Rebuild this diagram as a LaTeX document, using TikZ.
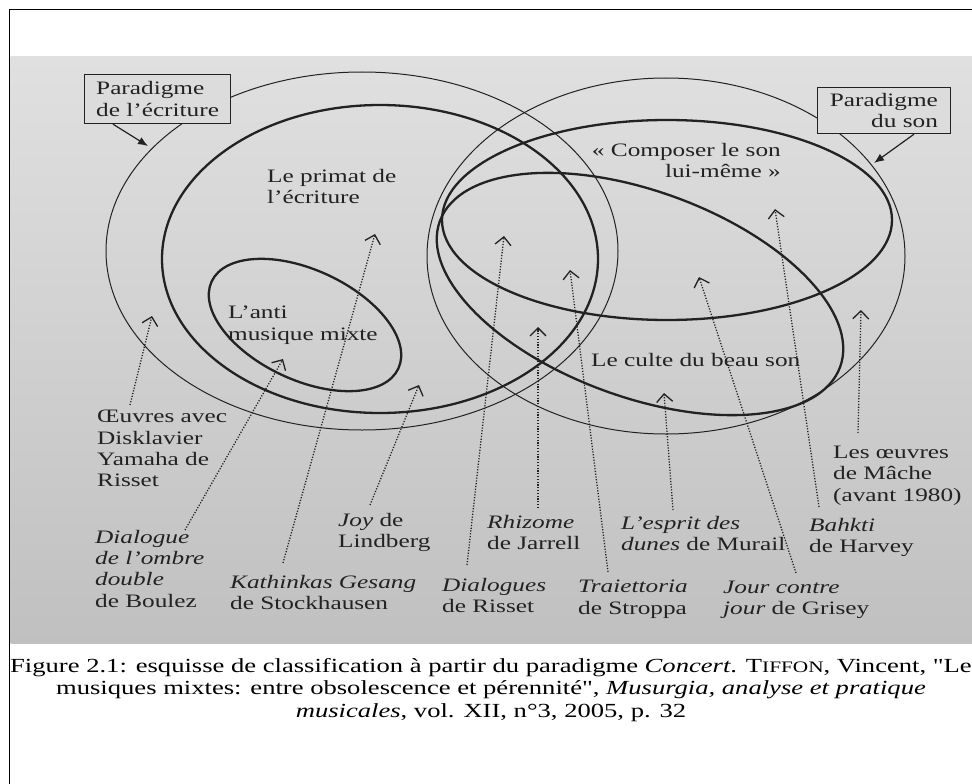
\documentclass[tikz,border=0pt]{standalone}
\usepackage{fontspec}
\setmainfont{Liberation Serif}
\newfontfamily\photofont[FakeStretch=1.33]{Liberation Serif}
\newfontfamily\capfont[FakeStretch=1.33, Ligatures=TeXOff]{Liberation Serif}
\usetikzlibrary{arrows.meta}
\definecolor{ink}{HTML}{222222}
\definecolor{bgtop}{HTML}{E0E0E0}
\definecolor{bgbot}{HTML}{C0C0C0}
\definecolor{boxbg}{HTML}{DCDCDC}
\begin{document}
\begin{tikzpicture}[x=1pt,y=1pt,
  thinell/.style={draw=ink, line width=1pt},
  thickell/.style={draw=ink, line width=2.3pt},
  lbl/.style={font=\photofont\fontsize{19}{21.3}\selectfont, text=ink, inner sep=0pt, align=left, anchor=north west},
  pbox/.style={lbl, draw=ink, line width=1.2pt, fill=boxbg, inner sep=0pt},
  dotarrow/.style={draw=ink, line width=1.3pt, dash pattern=on 1.2pt off 1.6pt,
     -{Straight Barb[length=8pt,width=16pt,line width=1.3pt]}},
  solidarrow/.style={draw=ink, line width=1.2pt, -{Latex[length=10pt,width=8pt]}},
  caption/.style={font=\capfont\fontsize{20}{22.3}\selectfont, text=black, inner sep=0pt, align=center}
]
\useasboundingbox (0,0) rectangle (972,-784);
% photo background
\shade[top color=bgtop, bottom color=bgbot] (10.5,-57) rectangle (972,-643);
% frame
\draw[line width=1.6pt] (9.5,-800) -- (9.5,-9.5) -- (990,-9.5);

% ellipses
\coordinate (cE1) at (362,-251);
\coordinate (cE2) at (380,-259);
\coordinate (cE3) at (305,-325);
\coordinate (cE4) at (666,-256);
\coordinate (cE5) at (667,-220);
\coordinate (cE6) at (640,-294);
\draw[thinell] (cE1) ellipse [x radius=256, y radius=179];
\draw[thickell] (cE2) ellipse [x radius=218, y radius=154];
\draw[thickell] (cE3) ellipse [x radius=103, y radius=55, rotate=-25];
\draw[thinell] (cE4) ellipse [x radius=239, y radius=178];
\draw[thickell] (cE5) ellipse [x radius=225, y radius=100];
\draw[thickell] (cE6) ellipse [x radius=213, y radius=103, rotate=-20];

% paradigm boxes
\node[pbox, minimum width=146, minimum height=49] (box1) at (84,-74) {Paradigme\\de l’écriture};
\node[pbox, anchor=north east, align=right, minimum width=133, minimum height=46] (box2) at (951,-87) {Paradigme\\du son};
\coordinate (tipA) at (148,-146);
\coordinate (tipB) at (874,-163);
\draw[solidarrow] ([xshift=29pt]box1.south west) -- (tipA);
\draw[solidarrow] ([xshift=-37pt]box2.south east) -- (tipB);

% region labels
\node[lbl] (primat) at (267,-169) {Le primat de\\l’écriture};
\node[lbl] (anti) at (228,-306) {L’anti\\musique mixte};
\node[lbl, anchor=north east, align=right] (composer) at (781,-143) {« Composer le son\\lui-même »};
\node[lbl] (culte) at (591,-353) {Le culte du beau son};

% work labels
\node[lbl] (oeuvres) at (97,-410) {Œuvres avec\\Disklavier\\Yamaha de\\Risset};
\node[lbl] (dialogue) at (95,-530) {\textit{Dialogue}\\\textit{de l’ombre}\\\textit{double}\\de Boulez};
\node[lbl] (kath) at (230,-575) {\textit{Kathinkas Gesang}\\de Stockhausen};
\node[lbl] (joy) at (338,-513) {\textit{Joy} de\\Lindberg};
\node[lbl] (dialogues) at (442,-578) {\textit{Dialogues}\\de Risset};
\node[lbl] (rhizome) at (487,-515) {\textit{Rhizome}\\de Jarrell};
\node[lbl] (traj) at (578,-580) {\textit{Traiettoria}\\de Stroppa};
\node[lbl] (esprit) at (621,-516) {\textit{L’esprit des}\\\textit{dunes} de Murail};
\node[lbl] (jour) at (723,-581) {\textit{Jour contre}\\\textit{jour} de Grisey};
\node[lbl] (bahkti) at (809,-518) {\textit{Bahkti}\\de Harvey};
\node[lbl] (mache) at (833,-446) {Les œuvres\\de Mâche\\(avant 1980)};

% dotted arrows: start and tip coordinates
\coordinate (s1) at (130,-405);  \coordinate (t1) at (152,-316);
\coordinate (s2) at (185,-530);  \coordinate (t2) at (283,-359);
\coordinate (s3) at (283,-563);  \coordinate (t3) at (375,-234);
\coordinate (s4) at (370,-505);  \coordinate (t4) at (419,-385);
\coordinate (s5) at (467,-565);  \coordinate (t5) at (504,-236);
\coordinate (s6) at (538,-508);  \coordinate (t6) at (538,-327);
\coordinate (s7) at (608,-572);  \coordinate (t7) at (570,-270);
\coordinate (s8) at (673,-510);  \coordinate (t8) at (664,-393);
\coordinate (s9) at (796,-573);  \coordinate (t9) at (699,-277);
\coordinate (s10) at (819,-507); \coordinate (t10) at (775,-209);
\coordinate (s11) at (858,-433); \coordinate (t11) at (861,-310);
\foreach \i in {1,...,11} { \draw[dotarrow] (s\i) -- (t\i); }

% caption
\node[caption] (cap) at (491,-690) {Figure 2.1: esquisse de classification à partir du paradigme \textit{Concert}. T{\fontsize{16}{18}\selectfont IFFON}, Vincent, "Le\\musiques mixtes: entre obsolescence et pérennité", \textit{Musurgia, analyse et pratique}\\\textit{musicales}, vol. XII, n°3, 2005, p. 32};
\end{tikzpicture}
\end{document}
